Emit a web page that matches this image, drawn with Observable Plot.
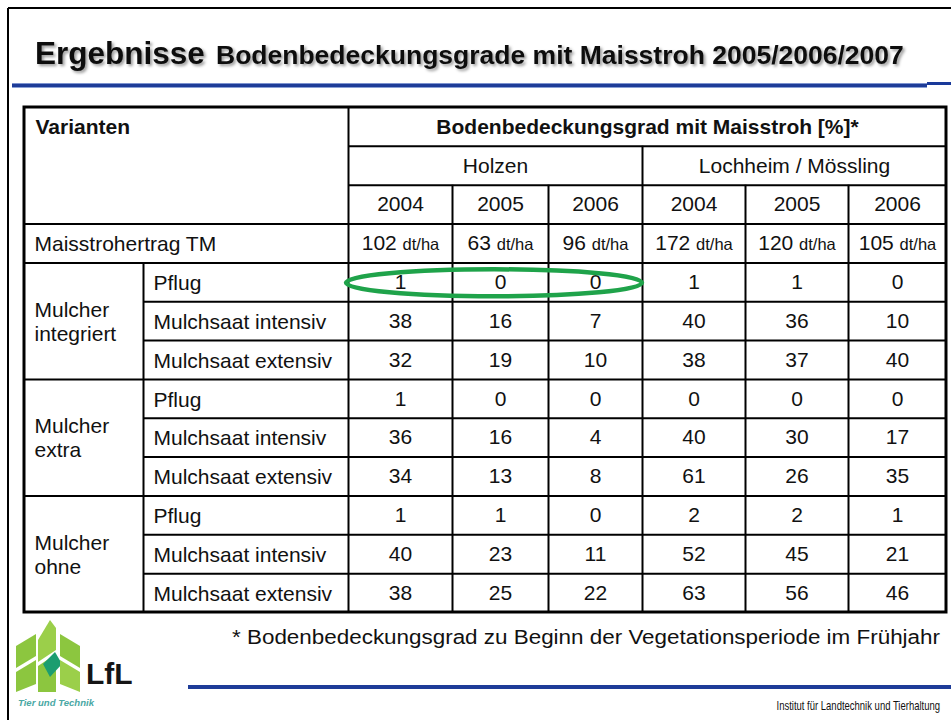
<!DOCTYPE html>
<html>
<head>
<meta charset="utf-8">
<script src="https://cdn.jsdelivr.net/npm/d3@7"></script>
<script src="https://cdn.jsdelivr.net/npm/@observablehq/plot@0.6"></script>
<style>
  html, body { margin: 0; padding: 0; background: #fff; }
  #slide { position: relative; width: 951px; height: 720px; overflow: hidden; background: #fff; }
  #deco, #chart { position: absolute; left: 0; top: 0; }
  #chart svg { display: block; }
</style>
</head>
<body>
<div id="slide">
  <svg id="deco" width="951" height="720" xmlns="http://www.w3.org/2000/svg">
    <defs>
      <filter id="sh" x="-5%" y="-30%" width="112%" height="170%">
        <feDropShadow dx="2" dy="2" stdDeviation="1.8" flood-color="#000" flood-opacity="0.4"/>
      </filter>
    </defs>
    <!-- slide frame -->
    <line x1="8" y1="8" x2="951" y2="8" stroke="#000" stroke-width="2"/>
    <line x1="8" y1="8" x2="8" y2="720" stroke="#000" stroke-width="2"/>
    <!-- title -->
    <g filter="url(#sh)" font-family="Liberation Sans, Arial, Helvetica, sans-serif" font-weight="bold" fill="#111">
      <text x="35" y="64" font-size="31.5">Ergebnisse</text>
      <text x="216" y="64" font-size="26.5">Bodenbedeckungsgrade mit Maisstroh 2005/2006/2007</text>
    </g>
    <!-- top blue rule -->
    <rect x="12" y="83" width="915" height="5" fill="#1e3c98"/>
    <rect x="12" y="83" width="915" height="1" fill="#7d93cf"/>
    <rect x="12" y="87" width="915" height="1" fill="#8aa0d6"/>
    <rect x="927" y="82" width="24" height="3" fill="#1a3a9a"/>
    <!-- footnote -->
    <text x="232" y="644" font-family="Liberation Sans, Arial, Helvetica, sans-serif" font-size="20" fill="#111" textLength="708" lengthAdjust="spacingAndGlyphs">* Bodenbedeckungsgrad zu Beginn der Vegetationsperiode im Frühjahr</text>
    <!-- bottom blue rule -->
    <rect x="188" y="685" width="763" height="4" fill="#1e3c98"/>
    <g transform="translate(940,710) scale(0.73,1)">
      <text x="0" y="0" text-anchor="end" font-family="Liberation Sans, Arial, sans-serif" font-size="13" fill="#111">Institut für Landtechnik und Tierhaltung</text>
    </g>
    <!-- LfL logo -->
    <g>
      <polygon points="16,646 36,634 36,656 16,668" fill="#8cc63f"/>
      <polygon points="16,672 36,660 36,684 16,692" fill="#8cc63f"/>
      <polygon points="38,640 50,620 56,628 56,650 38,662" fill="#9bcf4a"/>
      <polygon points="38,666 56,654 56,692 38,692" fill="#8cc63f"/>
      <polygon points="43,664 55,652 62,664 50,677" fill="#1c9d70"/>
      <polygon points="60,634 80,646 80,668 60,656" fill="#8cc63f"/>
      <polygon points="60,660 80,672 80,692 60,684" fill="#9bcf4a"/>
      <text x="86" y="684" font-family="Liberation Sans, Arial, sans-serif" font-weight="bold" font-size="30" fill="#151515">LfL</text>
      <text x="18" y="706" font-family="Liberation Sans, Arial, sans-serif" font-style="italic" font-weight="bold" font-size="9.5" fill="#4aa8a4" textLength="76" lengthAdjust="spacingAndGlyphs">Tier und Technik</text>
    </g>
  </svg>
  <div id="chart"></div>
</div>
<script>
// ---------------- data ----------------
const headerLabel = "Varianten";
const measureLabel = "Bodenbedeckungsgrad mit Maisstroh [%]*";
const sites = ["Holzen", "Lochheim / Mössling"];
const years = ["2004", "2005", "2006", "2004", "2005", "2006"];
const yieldLabel = "Maisstrohertrag TM";
const yieldValues = [102, 63, 96, 172, 120, 105];
const yieldUnit = "dt/ha";
const groups = ["Mulcher\nintegriert", "Mulcher\nextra", "Mulcher\nohne"];
const variants = ["Pflug", "Mulchsaat intensiv", "Mulchsaat extensiv"];
const coverage = [
  [1, 0, 0, 1, 1, 0],
  [38, 16, 7, 40, 36, 10],
  [32, 19, 10, 38, 37, 40],
  [1, 0, 0, 0, 0, 0],
  [36, 16, 4, 40, 30, 17],
  [34, 13, 8, 61, 26, 35],
  [1, 1, 0, 2, 2, 1],
  [40, 23, 11, 52, 45, 21],
  [38, 25, 22, 63, 56, 46]
];

// ---------------- layout (table grid in column/row units) ----------------
const nData = years.length;
const nCols = 2 + nData;
const headRows = 4;
const nRows = headRows + groups.length * variants.length;
const xDomain = d3.range(nCols + 1);
const xRange = [24, 143, 348, 452, 548, 642, 745, 848, 946];
const xs = d3.scaleLinear(xDomain, xRange);
const mid = (a, b) => xs.invert((xs(a) + xs(b)) / 2);

const boldLeft = [{x: 0, y: 0.5, t: headerLabel}];
const boldCenter = [{x: mid(2, nCols), y: 0.5, t: measureLabel}];
const plainCenter = [];
sites.forEach((s, i) => plainCenter.push({x: mid(2 + 3 * i, 5 + 3 * i), y: 1.5, t: s}));
years.forEach((yr, i) => plainCenter.push({x: mid(2 + i, 3 + i), y: 2.5, t: yr}));
yieldValues.forEach((v, i) => plainCenter.push({x: mid(2 + i, 3 + i), y: 3.5, t: `${v} ${yieldUnit}`}));
coverage.forEach((row, r) => row.forEach((v, c) => plainCenter.push({x: mid(2 + c, 3 + c), y: headRows + r + 0.5, t: String(v)})));
const plainLeft = [{x: 0, y: 3.5, t: yieldLabel}];
groups.forEach((g, gi) => {
  plainLeft.push({x: 0, y: headRows + gi * variants.length + variants.length / 2, t: g});
  variants.forEach((v, vi) => plainLeft.push({x: 1, y: headRows + gi * variants.length + vi + 0.5, t: v}));
});

const hLines = [];
hLines.push({y: 1, x1: 2, x2: nCols}, {y: 2, x1: 2, x2: nCols}, {y: 3, x1: 0, x2: nCols}, {y: 4, x1: 0, x2: nCols});
groups.forEach((g, gi) => {
  const base = headRows + gi * variants.length;
  for (let k = 1; k < variants.length; k++) hLines.push({y: base + k, x1: 1, x2: nCols});
  if (gi > 0) hLines.push({y: base, x1: 0, x2: nCols});
});
const vLines = [
  {x: 1, y1: headRows, y2: nRows},
  {x: 2, y1: 0, y2: nRows},
  {x: 5, y1: 1, y2: nRows}
];
[3, 4, 6, 7].forEach(x => vLines.push({x, y1: 2, y2: nRows}));
const outline = [{x1: 0, x2: nCols, y1: 0, y2: nRows}];

const font = "Liberation Sans, Arial, Helvetica, sans-serif";
const fs = 21;

const plot = Plot.plot({
  width: 951,
  height: 720,
  margin: 0,
  x: {type: "linear", domain: xDomain, range: xRange, axis: null},
  y: {type: "linear", domain: [0, nRows], range: [107, 612], axis: null},
  style: {background: "transparent", fontFamily: font, overflow: "visible", color: "#111"},
  marks: [
    Plot.ruleY(hLines, {y: "y", x1: "x1", x2: "x2", stroke: "#000", strokeWidth: 2}),
    Plot.ruleX(vLines, {x: "x", y1: "y1", y2: "y2", stroke: "#000", strokeWidth: 2}),
    Plot.rect(outline, {x1: "x1", x2: "x2", y1: "y1", y2: "y2", fill: "none", stroke: "#000", strokeWidth: 3}),
    Plot.text(boldLeft, {x: "x", y: "y", text: "t", textAnchor: "start", dx: 11, fontSize: fs, fontWeight: "bold", fill: "#111"}),
    Plot.text(boldCenter, {x: "x", y: "y", text: "t", fontSize: fs, fontWeight: "bold", fill: "#111"}),
    Plot.text(plainCenter, {x: "x", y: "y", text: "t", fontSize: fs, fill: "#111"}),
    Plot.text(plainLeft, {x: "x", y: "y", text: "t", textAnchor: "start", dx: 10, fontSize: fs, lineHeight: 1.15, fill: "#111"})
  ]
});

d3.select(plot).selectAll("text").filter(function () {
  return this.childElementCount === 0 && this.textContent.endsWith(yieldUnit);
}).each(function () {
  const s = d3.select(this);
  const num = this.textContent.slice(0, -yieldUnit.length);
  s.text(null);
  s.append("tspan").text(num);
  s.append("tspan").attr("font-size", 16.5).text(yieldUnit);
});

const sx = plot.scale("x"), sy = plot.scale("y");
const ex1 = sx.apply(2), ex2 = sx.apply(5);
d3.select(plot).append("ellipse")
  .attr("cx", (ex1 + ex2) / 2 - 1)
  .attr("cy", sy.apply(headRows + 0.5) + 1)
  .attr("rx", (ex2 - ex1) / 2 + 1)
  .attr("ry", 13.5)
  .attr("fill", "none")
  .attr("stroke", "#1fa34a")
  .attr("stroke-width", 4.5);

document.getElementById("chart").appendChild(plot);
</script>
</body>
</html>
